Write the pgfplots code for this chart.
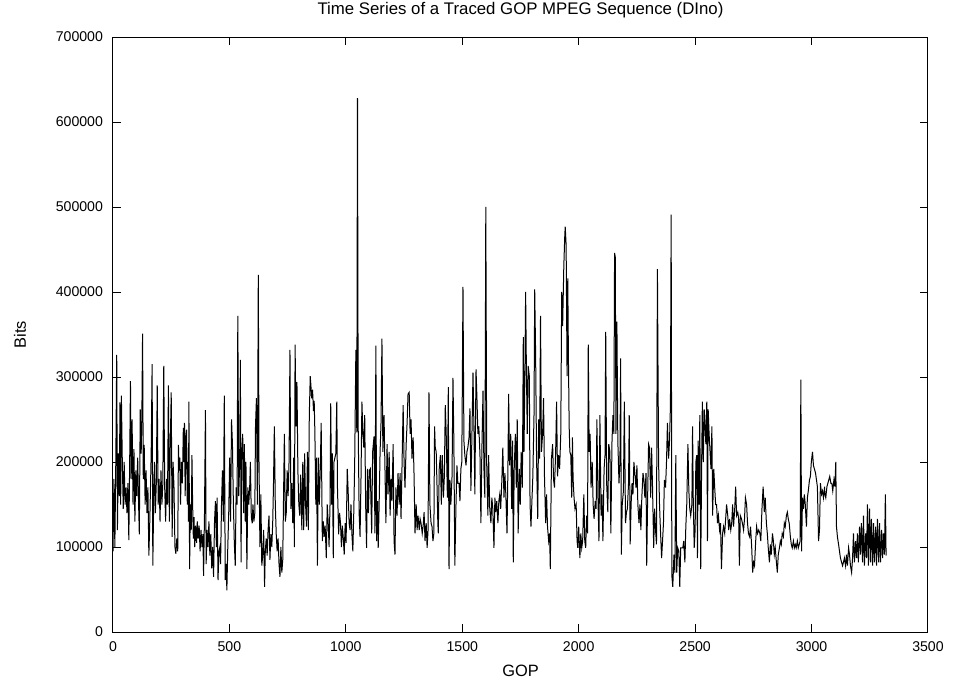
\documentclass[border=0pt]{standalone}
\usepackage{fontspec}
\setmainfont{Liberation Sans}
\usepackage{pgfplots}
\pgfplotsset{compat=1.18}
\begin{document}
\begin{tikzpicture}
\path[use as bounding box] (-84.75pt,-38.25pt) rectangle (630.75pt,474pt);
\begin{axis}[
  at={(0pt,0pt)}, anchor=south west,
  scale only axis, width=611.25pt, height=446.25pt,
  xmin=0, xmax=3500, ymin=0, ymax=700000,
  xtick={0,500,...,3500}, ytick={0,100000,...,700000},
  scaled ticks=false,
  /pgf/number format/fixed, /pgf/number format/1000 sep={},
  /pgf/number format/assume math mode=true,
  tick align=inside, tick pos=both, major tick length=6pt,
  tick style={black, line width=0.75pt},
  axis line style={black, line width=0.75pt},
  font=\fontsize{10.6}{12.7}\selectfont,
  xticklabel style={yshift=-4pt},
  yticklabel style={xshift=-4pt},
  title={Time Series of a Traced GOP MPEG Sequence (DIno)},
  title style={at={(axis description cs:0.5,1.0319)}, anchor=center, inner sep=0pt, font=\fontsize{12.6}{15}\selectfont},
  xlabel={GOP},
  xlabel style={at={(axis description cs:0.5,-0.0655)}, anchor=center, inner sep=0pt, font=\fontsize{12.3}{15}\selectfont},
  ylabel={Bits},
  ylabel style={at={(axis description cs:-0.1141,0.5)}, anchor=center, inner sep=0pt, font=\fontsize{12.3}{15}\selectfont},
]
\addplot[black, line width=0.75pt, mark=none] coordinates {
(0,95000)(4,180000)(8,100000)(12,200000)(16,326000)(19,120000)(23,210000)(27,160000)(30,270000)(33,150000)
(36,278000)(40,200000)(44,145000)(48,200000)(52,150000)(56,170000)(60,140000)(64,175000)(68,108000)(72,210000)
(75,295000)(78,180000)(82,250000)(86,150000)(90,215000)(94,130000)(98,190000)(102,160000)(106,205000)(110,150000)
(113,115000)(117,262000)(121,210000)(124,255000)(127,351000)(130,180000)(134,220000)(138,150000)(142,190000)(146,140000)
(150,170000)(154,90000)(158,130000)(161,170000)(164,210000)(168,315000)(171,78000)(175,160000)(178,200000)(182,140000)
(186,175000)(190,290000)(194,150000)(198,180000)(202,130000)(206,190000)(210,150000)(214,175000)(218,313000)(222,170000)
(226,130000)(230,180000)(234,150000)(238,290000)(242,130000)(246,220000)(250,282000)(254,112000)(258,200000)(262,170000)
(266,100000)(270,92000)(274,110000)(278,95000)(281,220000)(284,190000)(287,205000)(290,150000)(294,200000)(298,175000)
(302,240000)(305,200000)(307,246000)(310,160000)(313,230000)(316,238000)(319,150000)(322,200000)(324,130000)(326,271000)
(329,74000)(332,150000)(336,120000)(339,208000)(342,150000)(345,110000)(348,135000)(351,100000)(355,125000)(359,105000)
(362,130000)(366,110000)(370,125000)(374,95000)(378,120000)(382,100000)(386,115000)(389,66000)(393,140000)(397,261000)
(400,80000)(404,120000)(408,100000)(412,130000)(416,90000)(420,115000)(424,75000)(428,100000)(432,65000)(436,130000)
(440,154000)(444,100000)(447,158000)(451,61000)(455,95000)(459,100000)(462,80000)(466,150000)(470,190000)(474,130000)
(478,278000)(482,61000)(486,80000)(489,49000)(493,100000)(497,140000)(501,205000)(505,130000)(509,250000)(513,221000)
(517,150000)(521,105000)(525,78000)(529,170000)(533,150000)(536,372000)(540,160000)(544,200000)
(547,320000)(550,82000)(553,212000)(557,233000)(561,140000)(564,221000)(568,130000)(571,200000)(575,74000)(579,170000)
(583,150000)(587,170000)(590,200000)(594,135000)(598,128000)(601,150000)(605,130000)(609,140000)(612,242000)(616,275000)
(620,150000)(624,420000)(627,200000)(631,100000)(635,162000)(639,78000)(643,90000)(647,120000)(651,53000)(654,95000)
(658,110000)(662,90000)(666,120000)(670,137000)(674,85000)(678,115000)(682,100000)(686,130000)(689,170000)(693,242000)
(697,150000)(701,115000)(705,95000)(709,110000)(713,80000)(717,65000)(721,100000)(725,70000)(729,85000)(732,150000)
(736,233000)(740,130000)(744,140000)(748,190000)(752,160000)(756,200000)(760,332000)(764,145000)(768,175000)(772,128000)
(776,205000)(779,100000)(782,338000)(786,242000)(790,294000)(794,190000)(798,150000)(802,137000)(806,185000)(811,120000)
(815,200000)(819,120000)(823,210000)
(827,150000)(831,124000)(835,212000)(839,120000)(843,255000)(847,301000)(850,290000)(853,275000)(857,285000)(861,260000)
(864,272000)(867,235000)(871,150000)(874,205000)(878,78000)(882,205000)(886,150000)(890,190000)(894,246000)(899,107000)
(903,130000)(907,112000)(911,125000)(916,87000)(920,150000)(924,130000)(928,100000)(932,150000)(935,269000)(939,150000)
(942,210000)(946,87000)(949,200000)(953,205000)(957,210000)(961,271000)(964,170000)(969,115000)(973,140000)(977,128000)
(981,100000)(985,125000)(989,110000)(993,91000)(997,128000)(1001,105000)(1006,192000)(1010,165000)(1014,128000)(1018,120000)
(1022,150000)(1026,115000)(1030,95000)(1034,140000)(1038,200000)(1043,332000)(1047,235000)(1050,628000)(1053,242000)(1057,140000)
(1061,112000)(1065,180000)(1069,271000)(1073,235000)(1077,217000)(1081,255000)(1085,150000)(1089,99000)(1093,192000)(1097,140000)
(1101,190000)
(1105,192000)(1108,150000)(1111,116000)(1115,212000)(1121,230000)(1125,116000)(1129,337000)(1132,107000)(1136,154000)(1139,99000)
(1143,150000)(1147,212000)(1151,246000)(1155,345000)(1159,212000)(1164,255000)(1168,192000)(1172,128000)(1177,221000)(1181,162000)
(1186,212000)(1190,137000)(1194,180000)(1198,154000)(1203,221000)(1207,107000)(1211,91000)(1215,170000)(1220,137000)(1224,187000)
(1229,150000)(1233,187000)(1237,133000)(1241,192000)(1246,267000)(1250,200000)(1254,170000)(1259,221000)(1263,246000)(1267,280000)
(1272,282000)(1276,233000)(1280,250000)(1284,204000)(1289,229000)(1293,183000)(1297,116000)(1302,150000)(1306,120000)(1310,137000)
(1315,120000)(1319,133000)(1323,128000)(1328,116000)(1332,125000)(1336,141000)(1340,107000)(1345,128000)(1349,99000)(1353,120000)
(1357,282000)(1361,150000)(1366,128000)(1370,124000)(1374,107000)(1378,116000)(1381,242000)
(1384,217000)(1388,212000)(1392,166000)(1395,128000)(1397,116000)(1401,192000)(1406,208000)(1410,150000)(1414,208000)(1419,158000)
(1423,183000)(1427,267000)(1431,233000)(1436,158000)(1440,288000)(1443,74000)(1447,179000)(1451,150000)(1456,183000)(1460,299000)
(1464,221000)(1468,78000)(1473,150000)(1477,196000)(1481,175000)(1486,175000)(1490,154000)(1494,192000)(1498,200000)(1503,406000)
(1507,225000)(1511,208000)(1516,196000)(1520,212000)(1524,217000)(1529,229000)(1533,263000)(1537,166000)(1541,225000)(1546,305000)
(1550,242000)(1554,162000)(1559,309000)(1563,275000)(1567,233000)(1571,242000)(1576,208000)(1580,128000)(1584,212000)(1589,284000)
(1593,192000)(1597,158000)(1601,500000)(1605,196000)(1610,137000)(1613,208000)(1618,145000)(1623,128000)(1627,158000)(1631,145000)
(1636,99000)(1640,158000)(1644,141000)(1648,154000)(1653,128000)(1657,154000)(1661,162000)
(1665,145000)(1670,179000)(1674,217000)(1679,158000)(1683,187000)(1687,162000)(1692,116000)(1696,192000)(1699,280000)(1703,196000)
(1708,233000)(1712,145000)(1716,225000)(1719,82000)(1723,192000)(1728,233000)(1732,170000)(1736,250000)(1740,116000)(1745,192000)
(1749,150000)(1753,212000)(1758,170000)(1762,347000)(1765,212000)(1769,305000)(1772,400000)(1775,318000)(1779,233000)(1783,313000)
(1788,301000)(1791,150000)(1795,124000)(1799,154000)(1803,183000)(1808,255000)(1811,403000)(1815,326000)(1819,204000)(1824,133000)
(1828,250000)(1832,204000)(1836,372000)(1840,212000)(1845,233000)(1849,275000)(1853,183000)(1858,128000)(1862,162000)(1866,124000)
(1871,107000)(1875,116000)(1878,74000)(1883,204000)(1888,221000)(1892,179000)(1896,170000)(1901,212000)(1905,271000)(1909,183000)
(1914,208000)(1918,192000)(1923,233000)(1927,400000)(1931,360000)(1936,430000)(1940,465000)
(1942,477000)(1946,455000)(1950,301000)(1953,416000)(1956,318000)(1959,242000)(1962,212000)(1966,208000)(1970,158000)(1973,229000)
(1976,179000)(1980,158000)(1984,145000)(1989,150000)(1993,107000)(1996,99000)(2000,124000)(2005,87000)(2009,116000)(2013,99000)
(2017,107000)(2022,162000)(2026,107000)(2030,99000)(2034,137000)(2038,116000)(2041,338000)(2045,212000)(2049,233000)(2053,170000)
(2058,200000)(2062,150000)(2066,133000)(2071,154000)(2075,145000)(2078,250000)(2083,154000)(2087,107000)(2091,255000)(2096,137000)
(2100,162000)(2104,107000)(2109,192000)(2113,208000)(2116,353000)(2120,175000)(2125,141000)(2129,221000)(2134,212000)(2138,116000)
(2143,225000)(2147,255000)(2151,233000)(2154,446000)(2157,441000)(2160,233000)(2164,365000)(2168,225000)(2173,175000)(2177,200000)
(2180,322000)(2183,91000)(2187,150000)(2192,166000)(2196,271000)(2201,128000)(2205,141000)(2209,145000)(2214,175000)(2217,255000)
(2221,103000)(2225,150000)(2229,175000)(2233,162000)(2237,200000)(2241,187000)(2246,170000)(2250,196000)(2254,150000)(2259,128000)
(2263,150000)(2267,120000)(2271,158000)(2276,187000)(2280,179000)(2284,158000)(2289,187000)(2292,78000)(2296,158000)(2300,221000)
(2304,217000)(2309,158000)(2313,217000)(2317,170000)(2322,99000)(2326,145000)(2330,120000)(2334,103000)(2338,427000)(2343,200000)
(2347,150000)(2351,120000)(2356,87000)(2360,107000)(2364,128000)(2368,179000)(2373,170000)(2377,200000)(2381,246000)(2386,204000)
(2390,225000)(2394,267000)(2397,491000)(2400,66000)(2404,53000)(2409,91000)(2413,70000)(2417,208000)(2421,70000)(2425,99000)
(2430,95000)(2434,53000)(2438,99000)(2443,99000)(2447,99000)(2451,107000)(2456,82000)(2460,124000)(2464,150000)(2469,221000)
(2473,166000)(2477,145000)(2481,137000)(2486,150000)(2489,242000)(2492,154000)(2496,99000)
(2500,120000)(2503,200000)(2507,208000)(2510,87000)(2513,225000)(2517,150000)(2520,255000)(2524,74000)(2528,200000)(2531,271000)
(2535,200000)(2539,262000)(2542,246000)(2546,221000)(2550,271000)(2553,107000)(2556,262000)(2560,233000)(2564,212000)(2568,192000)
(2572,242000)(2575,137000)(2580,192000)(2584,170000)(2588,150000)(2592,150000)(2596,128000)(2600,137000)(2605,120000)(2609,128000)
(2613,74000)(2618,116000)(2622,124000)(2627,116000)(2631,133000)(2635,150000)(2640,137000)(2644,120000)(2648,133000)(2653,120000)
(2657,128000)(2661,150000)(2665,124000)(2670,145000)(2674,171000)(2678,137000)(2683,141000)(2687,133000)(2690,78000)(2694,137000)
(2699,133000)(2703,128000)(2708,120000)(2712,133000)(2716,158000)(2721,150000)(2725,128000)(2729,116000)(2734,112000)(2738,124000)
(2743,99000)(2747,70000)(2751,82000)(2755,78000)(2760,107000)(2764,124000)(2768,116000)(2773,120000)
(2778,116000)(2782,107000)(2787,145000)(2792,171000)(2797,141000)(2801,158000)(2806,128000)(2810,116000)(2814,99000)(2819,82000)
(2823,103000)(2827,91000)(2832,116000)(2836,107000)(2840,91000)(2844,99000)(2849,82000)(2853,70000)(2857,91000)(2862,99000)
(2866,107000)(2870,103000)(2874,116000)(2879,112000)(2883,128000)(2887,124000)(2892,137000)(2896,141000)(2900,133000)(2904,128000)
(2909,112000)(2913,103000)(2917,99000)(2922,107000)(2926,99000)(2930,103000)(2934,99000)(2939,107000)(2943,99000)(2947,103000)
(2951,107000)(2954,297000)(2957,95000)(2961,158000)(2965,145000)(2969,162000)(2973,150000)(2978,124000)(2982,158000)(2986,166000)
(2991,179000)(2995,183000)(2999,200000)(3004,212000)(3008,196000)(3012,192000)(3017,187000)(3021,179000)(3025,171000)(3030,107000)
(3034,120000)(3038,175000)(3043,162000)(3047,166000)(3051,158000)(3056,171000)
(3057,162000)(3061,158000)(3066,171000)(3070,175000)(3074,179000)(3078,183000)(3083,175000)(3087,175000)(3091,166000)(3096,179000)
(3100,171000)(3104,200000)(3107,124000)(3111,112000)(3116,103000)(3120,95000)(3124,87000)(3129,82000)(3133,78000)(3137,82000)
(3141,87000)(3146,78000)(3150,91000)(3154,78000)(3159,99000)(3163,91000)(3167,78000)(3172,70000)(3176,87000)(3180,116000)
(3184,82000)(3189,107000)(3193,87000)(3197,116000)(3201,82000)(3206,124000)(3210,91000)(3214,128000)(3219,82000)(3223,137000)
(3227,78000)(3232,116000)(3236,87000)(3240,150000)(3244,78000)(3249,145000)(3253,82000)(3257,133000)(3262,78000)(3266,128000)
(3270,82000)(3275,124000)(3279,78000)(3283,133000)(3288,82000)(3292,128000)(3296,82000)(3301,120000)(3305,87000)(3309,116000)
(3313,91000)(3317,162000)(3320,90000)
};
\end{axis}
\end{tikzpicture}
\end{document}
